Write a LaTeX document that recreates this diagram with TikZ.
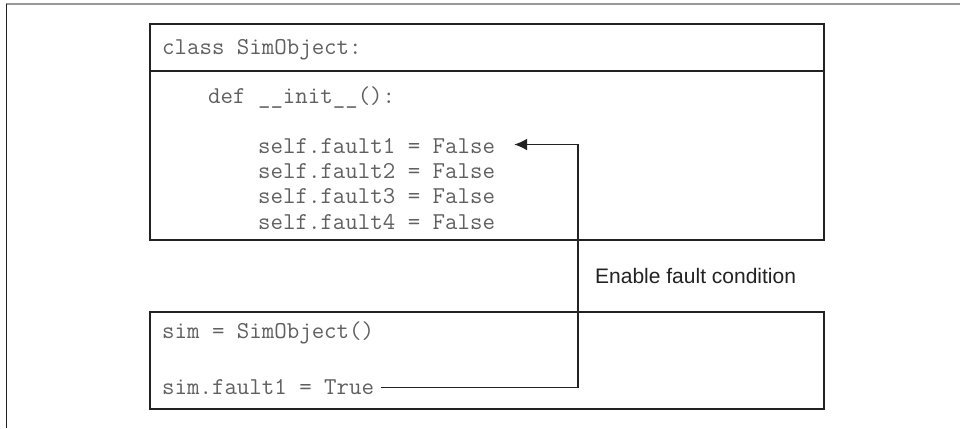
\documentclass[tikz,border=0pt]{standalone}
\usepackage{fontspec}
\setmainfont{Liberation Sans}
\usepackage{tikz}
\usetikzlibrary{arrows.meta, positioning, calc}
\usepackage{xcolor}
\definecolor{codegray}{HTML}{606060}
\definecolor{linegray}{HTML}{222222}
\definecolor{framegray}{HTML}{999999}

\begin{document}
\begin{tikzpicture}[x=1pt, y=-1pt,
    codeline/.style={font=\fontsize{24.2}{28}\selectfont\ttfamily, text=codegray, anchor=base west, inner sep=0pt},
    boxline/.style={draw=linegray, line width=1.6pt},
    link/.style={draw=linegray, line width=1.6pt}]
  \useasboundingbox (0,0) rectangle (960,428);

  % Outer frame (only top and left edge visible)
  \draw[framegray, line width=1.6pt] (6,4) -- (960,4);
  \draw[linegray, line width=1.6pt] (6.5,4) -- (6.5,428);

  % Class box
  \draw[boxline] (150,24) rectangle (824,240);
  \draw[boxline] (150,71) -- (824,71);
  \node[codeline] (cls) at (162,55) {class SimObject:};
  \node[codeline] (init) at (208,103) {def \_\_init\_\_():};
  \foreach \i/\yy in {1/153, 2/178, 3/203, 4/229} {
    \node[codeline] (f\i) at (258,\yy) {self.fault\i{} = False};
  }

  % Script box
  \draw[boxline] (150,312) rectangle (824,409);
  \node[codeline] (sim) at (162,338) {sim = SimObject()};
  \node[codeline] (tru) at (162,394) {sim.fault1 = True};

  % Arrow
  \coordinate (turn) at (578,270);
  \draw[link, -{Latex[length=13pt, width=12pt]}]
    ([xshift=7pt, yshift=-1pt]tru.east) -| (turn) |- ([xshift=19pt, yshift=1pt]f1.east);
  \node[font=\fontsize{21}{25}\selectfont, text=linegray, anchor=base west, inner sep=0pt]
    (lbl) at (595,283) {Enable fault condition};
\end{tikzpicture}
\end{document}
